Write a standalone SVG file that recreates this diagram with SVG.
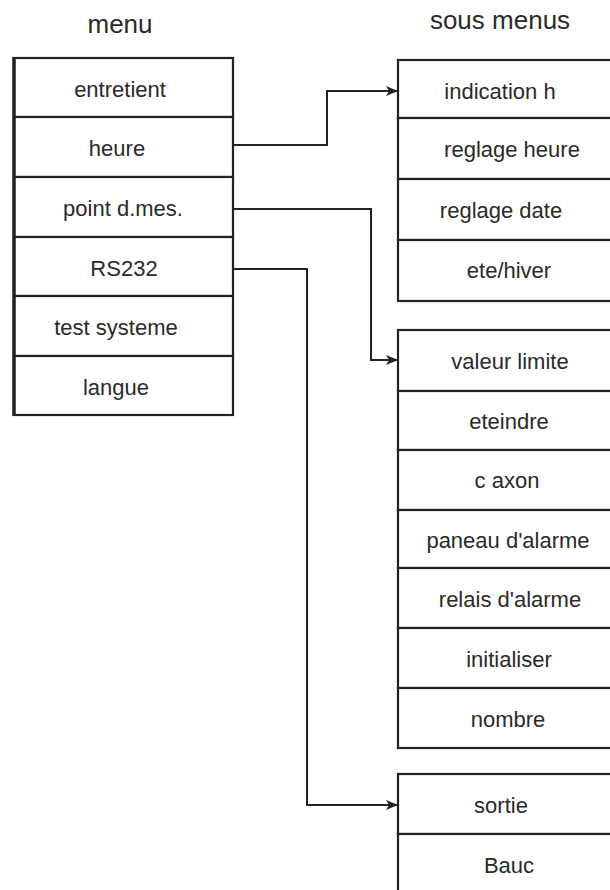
<svg xmlns="http://www.w3.org/2000/svg" width="610" height="890" viewBox="0 0 610 890">
<defs>
<style>
.cell{fill:#fff;stroke:#222;stroke-width:2.2}
.edge{stroke:#222;stroke-width:3.5}
.t{font-family:"Liberation Sans",Arial,sans-serif;font-size:22px;fill:#2a2a2a;text-anchor:middle}
.h{font-size:26px}
.conn{fill:none;stroke:#222;stroke-width:2}
</style>
<marker id="arr" markerWidth="12" markerHeight="10" refX="11" refY="5" orient="auto" markerUnits="userSpaceOnUse">
<path d="M0,0 L12,5 L0,10 L3,5 Z" fill="#222"/>
</marker>
</defs>
<rect width="610" height="890" fill="#fff"/>
<text class="t h" x="120" y="33">menu</text>
<text class="t h" x="500" y="29">sous menus</text>

<g id="menu">
<rect class="cell" x="14" y="58" width="219" height="59"/>
<rect class="cell" x="14" y="117" width="219" height="60"/>
<rect class="cell" x="14" y="177" width="219" height="60"/>
<rect class="cell" x="14" y="237" width="219" height="59"/>
<rect class="cell" x="14" y="296" width="219" height="60"/>
<rect class="cell" x="14" y="356" width="219" height="59"/>
<line class="edge" x1="14" y1="57" x2="14" y2="416"/>
<text class="t" x="120" y="97">entretient</text>
<text class="t" x="117" y="156">heure</text>
<text class="t" x="123" y="216">point d.mes.</text>
<text class="t" x="124" y="276">RS232</text>
<text class="t" x="116" y="335">test systeme</text>
<text class="t" x="116" y="395">langue</text>
</g>

<g id="sous1">
<rect class="cell" x="398" y="60" width="220" height="58"/>
<rect class="cell" x="398" y="118" width="220" height="61"/>
<rect class="cell" x="398" y="179" width="220" height="61"/>
<rect class="cell" x="398" y="240" width="220" height="61"/>
<text class="t" x="500" y="99">indication h</text>
<text class="t" x="512" y="157">reglage heure</text>
<text class="t" x="501" y="218">reglage date</text>
<text class="t" x="509" y="278">ete/hiver</text>
</g>

<g id="sous2">
<rect class="cell" x="398" y="330" width="220" height="61"/>
<rect class="cell" x="398" y="391" width="220" height="59"/>
<rect class="cell" x="398" y="450" width="220" height="60"/>
<rect class="cell" x="398" y="510" width="220" height="58"/>
<rect class="cell" x="398" y="568" width="220" height="60"/>
<rect class="cell" x="398" y="628" width="220" height="60"/>
<rect class="cell" x="398" y="688" width="220" height="60"/>
<text class="t" x="510" y="369">valeur limite</text>
<text class="t" x="509" y="429">eteindre</text>
<text class="t" x="507" y="488">c axon</text>
<text class="t" x="508" y="548">paneau d'alarme</text>
<text class="t" x="510" y="607">relais d'alarme</text>
<text class="t" x="509" y="667">initialiser</text>
<text class="t" x="508" y="727">nombre</text>
</g>

<g id="sous3">
<rect class="cell" x="398" y="774" width="220" height="60"/>
<rect class="cell" x="398" y="834" width="220" height="70"/>
<text class="t" x="501" y="813">sortie</text>
<text class="t" x="509" y="873">Bauc</text>
</g>

<g id="connectors">
<polyline class="conn" points="233,145 327,145 327,91 397,91" marker-end="url(#arr)"/>
<polyline class="conn" points="233,209 371,209 371,360 397,360" marker-end="url(#arr)"/>
<polyline class="conn" points="233,269 307,269 307,805 397,805" marker-end="url(#arr)"/>
</g>
</svg>
